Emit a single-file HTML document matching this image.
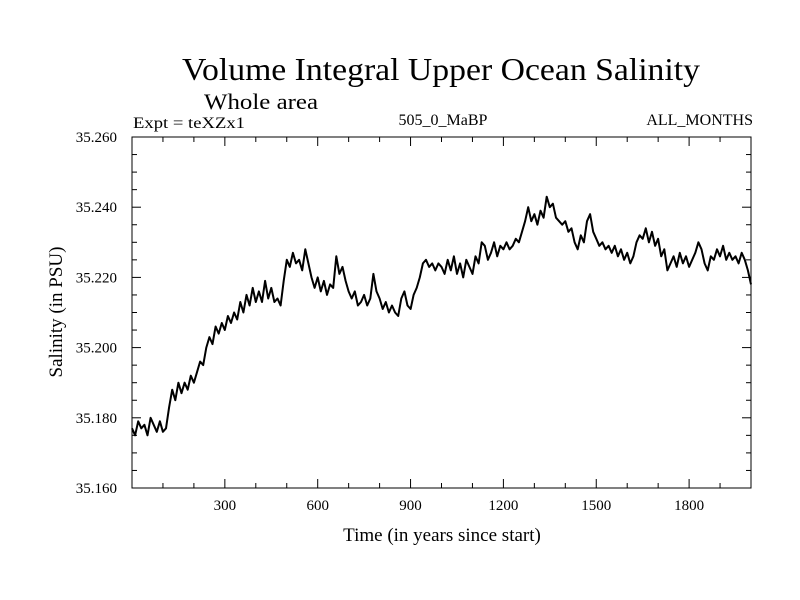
<!DOCTYPE html>
<html><head><meta charset="utf-8"><style>
body{margin:0;background:#fff;}
svg{display:block;font-family:"Liberation Serif",serif;}
</style></head><body>
<svg id="chart" width="800" height="600" viewBox="0 0 800 600">
<rect width="800" height="600" fill="#fff"/>
<text x="441" y="80" font-size="32" text-anchor="middle" textLength="518" lengthAdjust="spacingAndGlyphs">Volume Integral Upper Ocean Salinity</text>
<text x="204" y="109" font-size="22" textLength="114" lengthAdjust="spacingAndGlyphs">Whole area</text>
<text x="133" y="128" font-size="16" textLength="112" lengthAdjust="spacingAndGlyphs">Expt = teXZx1</text>
<text x="443" y="125" font-size="16" text-anchor="middle">505_0_MaBP</text>
<text x="753" y="125" font-size="16" text-anchor="end">ALL_MONTHS</text>
<text transform="translate(62,312) rotate(-90)" font-size="19" text-anchor="middle">Salinity (in PSU)</text>
<text x="442" y="541" font-size="19" text-anchor="middle">Time (in years since start)</text>
<g id="axes"></g>
<path id="series" fill="none" stroke="#000" stroke-width="2" stroke-linejoin="round"/>
<rect x="132" y="137" width="619" height="351" fill="none" stroke="#000" stroke-width="1"/>
</svg>
<script>
const xTickValues=[300,600,900,1200,1500,1800];
const yTickValues=[35.160,35.180,35.200,35.220,35.240,35.260];
const yTickLabels=["35.160","35.180","35.200","35.220","35.240","35.260"];
const years=[];
for(let i=0;i<=200;i++){years.push(i*10);}
const salinity=[
35.177,35.175,35.179,35.177,35.178,35.175,35.180,35.178,35.176,35.179,
35.176,35.177,35.183,35.188,35.185,35.190,35.187,35.190,35.188,35.192,
35.190,35.193,35.196,35.195,35.200,35.203,35.201,35.206,35.204,35.207,
35.205,35.209,35.207,35.210,35.208,35.213,35.210,35.215,35.212,35.217,
35.213,35.216,35.213,35.219,35.214,35.217,35.213,35.214,35.212,35.219,
35.225,35.223,35.227,35.224,35.225,35.222,35.228,35.224,35.220,35.217,
35.220,35.216,35.219,35.215,35.218,35.217,35.226,35.221,35.223,35.219,
35.216,35.214,35.216,35.212,35.213,35.215,35.212,35.214,35.221,35.216,
35.214,35.211,35.213,35.210,35.212,35.210,35.209,35.214,35.216,35.212,
35.211,35.215,35.217,35.220,35.224,35.225,35.223,35.224,35.222,35.224,
35.223,35.221,35.225,35.222,35.226,35.221,35.224,35.220,35.225,35.223,
35.221,35.226,35.224,35.230,35.229,35.225,35.227,35.230,35.226,35.229,
35.228,35.230,35.228,35.229,35.231,35.230,35.233,35.236,35.240,35.236,
35.238,35.235,35.239,35.237,35.243,35.240,35.241,35.237,35.236,35.235,
35.236,35.233,35.234,35.230,35.228,35.232,35.230,35.236,35.238,35.233,
35.231,35.229,35.230,35.228,35.229,35.227,35.229,35.226,35.228,35.225,
35.227,35.224,35.226,35.230,35.232,35.231,35.234,35.230,35.233,35.229,
35.231,35.226,35.228,35.222,35.224,35.226,35.223,35.227,35.224,35.226,
35.223,35.225,35.227,35.230,35.228,35.224,35.222,35.226,35.225,35.228,
35.226,35.229,35.225,35.227,35.225,35.226,35.224,35.227,35.225,35.222,
35.218];
const X0=132,X1=751,Y0=488,Y1=137,XMIN=0,XMAX=2000,YMIN=35.160,YMAX=35.260;
function sx(v){return X0+(v-XMIN)/(XMAX-XMIN)*(X1-X0);}
function sy(v){return Y0-(v-YMIN)/(YMAX-YMIN)*(Y0-Y1);}
const NS="http://www.w3.org/2000/svg";
const axes=document.getElementById('axes');
function line(x1,y1,x2,y2,name){
  const l=document.createElementNS(NS,'line');
  l.setAttribute('x1',x1);l.setAttribute('y1',y1);l.setAttribute('x2',x2);l.setAttribute('y2',y2);
  l.setAttribute('stroke','#000');l.setAttribute('stroke-width','1');
  
  
  axes.appendChild(l);
}
function label(x,y,txt,anchor,name){
  const t=document.createElementNS(NS,'text');
  t.setAttribute('x',x);t.setAttribute('y',y);t.setAttribute('font-size','15');
  t.setAttribute('text-anchor',anchor);t.textContent=txt;
  
  
  axes.appendChild(t);
}
for(let v=100;v<XMAX;v+=100){
  const major=v%300===0, len=major?9:5, x=sx(v);
  line(x,Y0,x,Y0-len,'x-tick');
  line(x,Y1,x,Y1+len,'x-tick-top');
}
xTickValues.forEach(v=>label(sx(v),510,String(v),'middle','x-tick-label'));
for(let k=1;k<20;k++){
  const v=YMIN+k*0.005, major=k%4===0, len=major?9:5, y=sy(v);
  line(X0,y,X0+len,y,'y-tick');
  line(X1,y,X1-len,y,'y-tick-right');
}
yTickValues.forEach((v,i)=>label(117,sy(v)+5,yTickLabels[i],'end','y-tick-label'));
let d='';
salinity.forEach((v,i)=>{d+=(i?'L':'M')+sx(years[i]).toFixed(1)+','+sy(v).toFixed(1);});
document.getElementById('series').setAttribute('d',d);
</script>
</body></html>
